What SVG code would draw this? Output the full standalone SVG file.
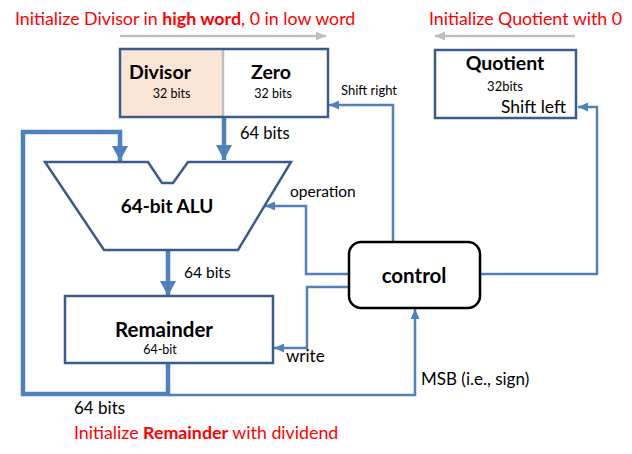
<svg xmlns="http://www.w3.org/2000/svg" width="632" height="454" viewBox="0 0 632 454">
<style>
text{font-family:Lato,"Open Sans","Liberation Sans",sans-serif;fill:#000}
.red{fill:#ff0000;font-size:17.8px}
.b{font-weight:bold}
.box{fill:#fff;stroke:#3b5b8c;stroke-width:2.5}
.thin{fill:none;stroke:#4f81bd;stroke-width:2.5;stroke-linejoin:miter}
.thick{fill:none;stroke:#4f81bd;stroke-width:4.5;stroke-linejoin:miter}
.gray{fill:none;stroke:#bfbfbf;stroke-width:2.5}
</style>
<defs>
<marker id="ah" markerUnits="userSpaceOnUse" markerWidth="10" markerHeight="9" viewBox="0 0 10 9" refX="10" refY="4.5" orient="auto"><path d="M0,0 L10,4.5 L0,9 z" fill="#4f81bd"/></marker>
<marker id="ahT" markerUnits="userSpaceOnUse" markerWidth="15" markerHeight="16" viewBox="0 0 15 16" refX="15" refY="8" orient="auto"><path d="M0,0 L15,8 L0,16 z" fill="#4f81bd"/></marker>
<marker id="ahG" markerUnits="userSpaceOnUse" markerWidth="10" markerHeight="9" viewBox="0 0 10 9" refX="10" refY="4.5" orient="auto"><path d="M0,0 L10,4.5 L0,9 z" fill="#bfbfbf"/></marker>
</defs>

<g id="annotations">
<text class="red" x="15" y="25">Initialize Divisor in <tspan class="b">high word</tspan>, 0 in low word</text>
<text class="red" x="429" y="25">Initialize Quotient with 0</text>
<text class="red" x="74" y="439" font-size="18">Initialize <tspan class="b">Remainder</tspan> with dividend</text>
<line class="gray" x1="120" y1="36" x2="326" y2="36" marker-end="url(#ahG)"/>
<line class="gray" x1="575" y1="36" x2="435" y2="36" marker-end="url(#ahG)"/>
</g>

<g id="connectors">
<polyline class="thin" points="393,242 393,105 329,105" marker-end="url(#ah)"/>
<polyline class="thin" points="480,274 597,274 597,107 578,107" marker-end="url(#ah)"/>
<polyline class="thin" points="349,274 306,274 306,206 265,206" marker-end="url(#ah)"/>
<polyline class="thin" points="349,287 307,287 307,348 274,348" marker-end="url(#ah)"/>
<polyline class="thin" points="168,395 415,395 415,309" marker-end="url(#ah)"/>
<polyline class="thick" points="168,363 168,394 23,394 23,132 120,132 120,161" marker-end="url(#ahT)"/>
<line class="thick" x1="224" y1="117" x2="224" y2="160" marker-end="url(#ahT)"/>
<line class="thick" x1="168" y1="250" x2="168" y2="296" marker-end="url(#ahT)"/>
<text x="240" y="139" font-size="16.5">64 bits</text>
<text x="184" y="278" font-size="15.5">64 bits</text>
<text x="74" y="414" font-size="17">64 bits</text>
<text x="341" y="95" font-size="13">Shift right</text>
<text x="290" y="197" font-size="15.5">operation</text>
<text x="286" y="362" font-size="17">write</text>
<text x="421" y="385" font-size="17">MSB (i.e., sign)</text>
</g>

<g id="divisor">
<rect x="120" y="49" width="103" height="68" fill="#fbe5d6"/>
<rect x="223" y="49" width="105" height="68" fill="#fff"/>
<line x1="223" y1="49" x2="223" y2="117" stroke="#bfbfbf" stroke-width="2.5"/>
<rect x="120" y="49" width="208" height="68" fill="none" stroke="#3b5b8c" stroke-width="2.5"/>
<text x="129" y="79" font-size="19.5" class="b">Divisor</text>
<text x="171.5" y="98" font-size="12.5" text-anchor="middle">32 bits</text>
<text x="271" y="79" font-size="19.5" class="b" text-anchor="middle">Zero</text>
<text x="273" y="98" font-size="12.5" text-anchor="middle">32 bits</text>
</g>

<g id="quotient">
<rect class="box" x="435" y="50" width="141" height="68"/>
<text x="505" y="70" font-size="19.5" class="b" text-anchor="middle">Quotient</text>
<text x="505" y="91" font-size="13" text-anchor="middle">32bits</text>
<text x="566" y="113" font-size="17.5" text-anchor="end">Shift left</text>
</g>

<g id="alu">
<polygon points="45,162 148,162 162,183 173,183 188,162 291,162 238,250 104,250" fill="#fff" stroke="#3b5b8c" stroke-width="2.5" stroke-linejoin="miter"/>
<text x="167" y="213" font-size="19" class="b" text-anchor="middle">64-bit ALU</text>
</g>

<g id="remainder">
<rect class="box" x="65" y="296" width="208" height="67"/>
<text x="164" y="337" font-size="20.5" class="b" text-anchor="middle">Remainder</text>
<text x="160" y="354" font-size="12.5" text-anchor="middle">64-bit</text>
</g>

<g id="control">
<rect x="349" y="242" width="131" height="66" rx="12" ry="12" fill="#fff" stroke="#000" stroke-width="2.5"/>
<text x="414" y="283" font-size="20.5" class="b" text-anchor="middle">control</text>
</g>
</svg>
